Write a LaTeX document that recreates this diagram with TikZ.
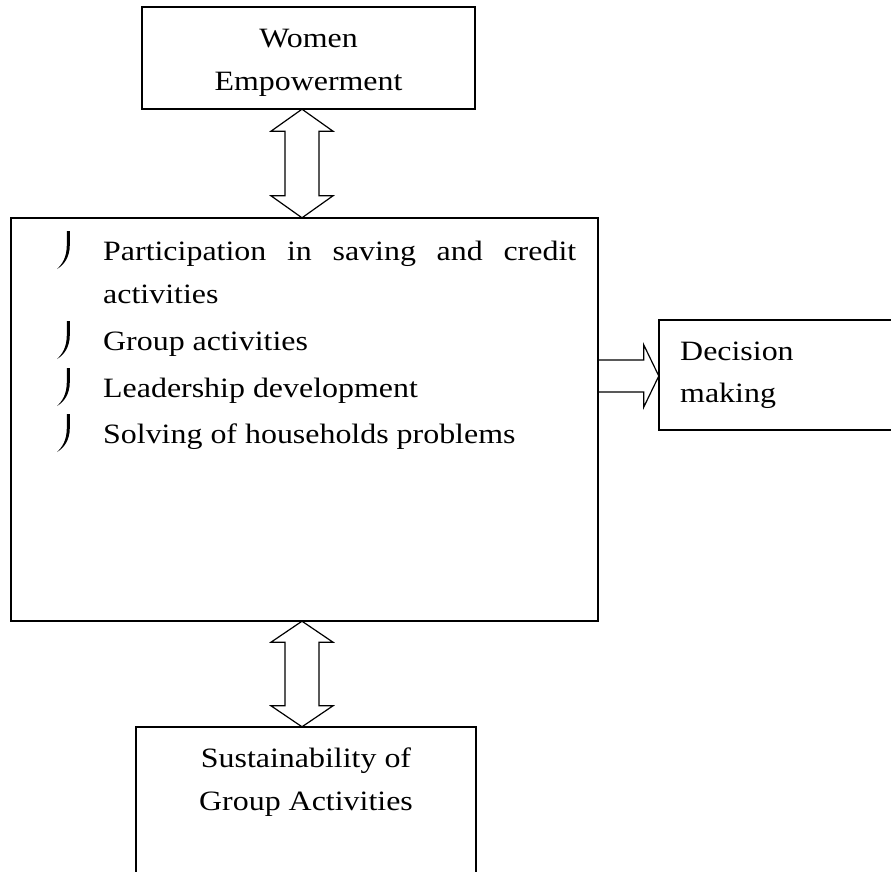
\documentclass[tikz,border=0pt]{standalone}
\usepackage{fontspec}
\setmainfont[FakeStretch=1.14]{Liberation Serif}
\usetikzlibrary{calc}
\newcommand\bulmark[1]{%
  \fill[shift={(0,#1)}] (66.8,-29) -- (69.8,-29) -- (69.8,-15)
    .. controls (69.8,-3) and (64,5) .. (57,9)
    .. controls (62.5,4) and (66.8,-3) .. (66.8,-15) -- cycle;}
\begin{document}
\begin{tikzpicture}[x=1pt,y=-1pt,
  box/.style={draw,line width=1.5pt,inner sep=0pt,fill=white},
  lbl/.style={inner sep=0pt,anchor=base,font=\fontsize{28}{43}\selectfont},
  lbll/.style={lbl,anchor=base west},
  barrow/.style={draw,line width=1.2pt,fill=white,line join=miter}]
\useasboundingbox (0,0) rectangle (891,872);
% boxes (outlines drawn later)
\path (308.5,58) node[minimum width=333pt,minimum height=102pt,inner sep=0pt] (we) {};
\path (304.5,419.5) node[minimum width=587pt,minimum height=403pt,inner sep=0pt] (mb) {};
\path (779.5,375) node[minimum width=241pt,minimum height=110pt,inner sep=0pt] (dm) {};
\path (306,803.5) node[minimum width=340pt,minimum height=153pt,inner sep=0pt] (sg) {};
\coordinate (ax) at (302,0);
\coordinate (ay) at (0,376);
% top double arrow
\coordinate (t1) at (we.south -| ax);
\coordinate (t2) at (mb.north -| ax);
\draw[barrow] (t1) -- ($(t1)+(31,22)$) -- ($(t1)+(17,22)$) -- ($(t2)+(17,-22)$) -- ($(t2)+(31,-22)$) -- (t2)
  -- ($(t2)+(-31,-22)$) -- ($(t2)+(-17,-22)$) -- ($(t1)+(-17,22)$) -- ($(t1)+(-31,22)$) -- cycle;
% bottom double arrow
\coordinate (b1) at (mb.south -| ax);
\coordinate (b2) at (sg.north -| ax);
\draw[barrow] (b1) -- ($(b1)+(31,21)$) -- ($(b1)+(17,21)$) -- ($(b2)+(17,-21)$) -- ($(b2)+(31,-21)$) -- (b2)
  -- ($(b2)+(-31,-21)$) -- ($(b2)+(-17,-21)$) -- ($(b1)+(-17,21)$) -- ($(b1)+(-31,21)$) -- cycle;
% right arrow
\coordinate (s) at (mb.east |- ay);
\coordinate (e) at (dm.west |- ay);
\draw[line width=1.2pt,line join=miter] ($(s)+(0,-16)$) -- ($(e)+(-15,-16)$) -- ($(e)+(-15,-31)$) -- (e)
  -- ($(e)+(-15,31)$) -- ($(e)+(-15,16)$) -- ($(s)+(0,16)$);
% box outlines
\draw[line width=1.5pt] (we.south west) rectangle (we.north east);
\draw[line width=1.5pt] (mb.south west) rectangle (mb.north east);
\draw[line width=1.5pt] (dm.south west) rectangle (dm.north east);
\draw[line width=1.5pt] (sg.south west) rectangle (sg.north east);
% texts
\node[lbl] (we1) at (308.5,48) {Women};
\node[lbl] (we2) at (308.5,91) {Empowerment};
\node[lbll] (m1) at (103,260) {\makebox[473pt][s]{Participation in saving and credit}};
\node[lbll] (m2) at (103,303) {activities};
\node[lbll] (m3) at (103,350) {Group activities};
\node[lbll] (m4) at (103,397) {Leadership development};
\node[lbll] (m5) at (103,443) {Solving of households problems};
\node[lbll] (d1) at (680,360) {Decision};
\node[lbll] (d2) at (680,402) {making};
\node[lbl] (s1) at (306,767) {Sustainability of};
\node[lbl] (s2) at (306,810) {Group Activities};
% bullets
\bulmark{260}
\bulmark{350}
\bulmark{397}
\bulmark{443}
\end{tikzpicture}
\end{document}
